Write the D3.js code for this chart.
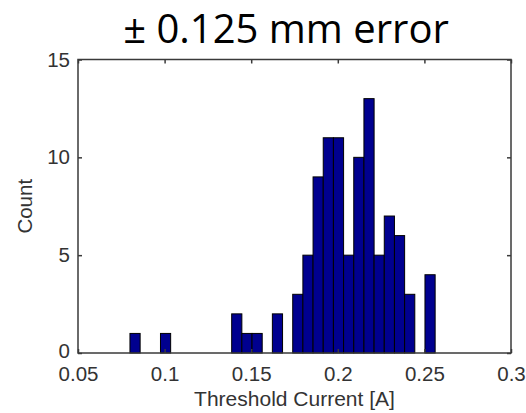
<!DOCTYPE html>
<html>
<head>
<meta charset="utf-8">
<script src="https://cdn.jsdelivr.net/npm/d3@7"></script>
<style>
  body { margin: 0; background: #fff; }
  svg { display: block; }
</style>
</head>
<body>
<script>
// histogram counts, 30 equal bins between min and max of the data
const counts = [1, 0, 0, 1, 0, 0, 0, 0, 0, 0,
                2, 1, 1, 0, 2, 0, 3, 5, 9, 11,
                11, 5, 10, 13, 5, 7, 6, 3, 0, 4];
const histRange = [0.0800, 0.2562];
const xTicks = [0.05, 0.1, 0.15, 0.2, 0.25, 0.3];
const yTicks = [0, 5, 10, 15];
const titleText = "\u00b1 0.125 mm error";
const xLabel = "Threshold Current [A]";
const yLabel = "Count";

const svgWidth = 526;
const svgHeight = 413;
const margin = { top: 59.5, right: 15, bottom: 60, left: 78 };

const svg = d3.select("body").append("svg")
    .attr("width", svgWidth)
    .attr("height", svgHeight);

const x = d3.scaleLinear()
    .domain([0.05, 0.3])
    .range([margin.left, svgWidth - margin.right]);

const y = d3.scaleLinear()
    .domain([0, 15])
    .range([svgHeight - margin.bottom, margin.top]);

// bin index -> threshold current
const binEdge = d3.scaleLinear()
    .domain([0, counts.length])
    .range(histRange);

const bins = counts.map((c, i) => ({ x0: binEdge(i), x1: binEdge(i + 1), count: c }));

const axisFont = "Arial, 'Liberation Sans', sans-serif";
const axisColor = "#3a3a3a";

// bars
svg.append("g")
    .selectAll("rect")
    .data(bins)
    .enter()
    .append("rect")
    .attr("x", d => x(d.x0))
    .attr("y", d => y(d.count))
    .attr("width", d => x(d.x1) - x(d.x0))
    .attr("height", d => y(0) - y(d.count))
    .style("fill", "#00008f")
    .style("stroke", "#000")
    .style("stroke-width", 1);

// axes, ticks pointing inwards like matlab
const bottomAxis = svg.append("g")
    .attr("transform", `translate(0,${y(0)})`)
    .call(d3.axisBottom(x).tickValues(xTicks).tickSize(-4).tickPadding(13)
        .tickFormat(d3.format("")));

const topAxis = svg.append("g")
    .attr("transform", `translate(0,${y(15)})`)
    .call(d3.axisTop(x).tickValues(xTicks).tickSize(-4).tickFormat(""));

const leftAxis = svg.append("g")
    .attr("transform", `translate(${x(0.05)},0)`)
    .call(d3.axisLeft(y).tickValues(yTicks).tickSize(-4).tickPadding(8));

const rightAxis = svg.append("g")
    .attr("transform", `translate(${x(0.3)},0)`)
    .call(d3.axisRight(y).tickValues(yTicks).tickSize(-4).tickFormat(""));

[bottomAxis, topAxis, leftAxis, rightAxis].forEach(g => {
    g.select(".domain").remove();
    g.selectAll(".tick line").style("stroke", axisColor).style("stroke-width", 1.5);
    g.selectAll(".tick text")
        .style("font-family", axisFont)
        .style("font-size", "20.5px")
        .style("fill", "#333");
});

// the "0" label sits right on top of "0.05", lift it a touch
leftAxis.selectAll(".tick text").filter(d => d === 0).attr("dy", "0.22em");

// box
svg.append("rect")
    .attr("x", x(0.05))
    .attr("y", y(15))
    .attr("width", x(0.3) - x(0.05))
    .attr("height", y(0) - y(15))
    .style("fill", "none")
    .style("stroke", axisColor)
    .style("stroke-width", 1.5);

// labels
svg.append("text")
    .attr("x", (x(0.05) + x(0.3)) / 2)
    .attr("y", 406)
    .attr("text-anchor", "middle")
    .style("font-family", axisFont)
    .style("font-size", "21px")
    .style("fill", "#333")
    .text(xLabel);

svg.append("text")
    .attr("transform", `translate(32,${(y(0) + y(15)) / 2}) rotate(-90)`)
    .attr("text-anchor", "middle")
    .style("font-family", axisFont)
    .style("font-size", "20.5px")
    .style("fill", "#333")
    .text(yLabel);

svg.append("text")
    .attr("x", 286)
    .attr("y", 43)
    .attr("text-anchor", "middle")
    .style("font-family", "'Open Sans', 'Noto Sans', sans-serif")
    .style("font-size", "40px")
    .style("fill", "#000")
    .text(titleText);
</script>
</body>
</html>
